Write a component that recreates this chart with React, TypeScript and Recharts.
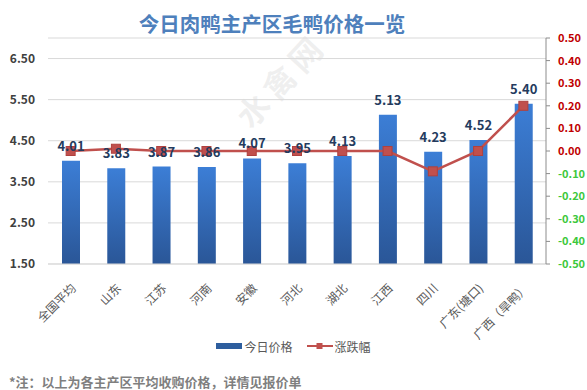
import React from 'react';
import {
  ComposedChart, Bar, Line, XAxis, YAxis, CartesianGrid, LabelList, Legend,
} from 'recharts';

const categories = ['全国平均', '山东', '江苏', '河南', '安徽', '河北', '湖北', '江西', '四川', '广东(塘口)', '广西（旱鸭）'];
const prices = [4.01, 3.83, 3.87, 3.86, 4.07, 3.95, 4.13, 5.13, 4.23, 4.52, 5.40];
const changes = [0, 0.01, 0, 0, 0, 0, 0, 0, -0.09, 0, 0.20];
const leftTicks = [1.5, 2.5, 3.5, 4.5, 5.5, 6.5];
const rightTicks = [-0.5, -0.4, -0.3, -0.2, -0.1, 0, 0.1, 0.2, 0.3, 0.4, 0.5];

const data = categories.map((name, i) => ({ name, price: prices[i], change: changes[i] }));

const FONT = '"Noto Sans CJK SC", "Noto Sans", sans-serif';

const XTick = (props: any) => {
  const { x, y, payload } = props;
  const px = x + 6;
  const py = y + 17;
  return (
    <text x={px} y={py} transform={`rotate(-45, ${px}, ${py})`} textAnchor="end"
      fontSize={12} fill="#595959" fontFamily={FONT}>{payload.value}</text>
  );
};

const RightTick = (props: any) => {
  const { x, y, payload } = props;
  const v = payload.value;
  return (
    <text x={x} y={y} dy={4} textAnchor="start" fontSize={11} fontWeight={700}
      fill={v < 0 ? '#3CC83C' : '#C00000'} fontFamily={FONT}>{v.toFixed(2)}</text>
  );
};

const LeftTick = (props: any) => {
  const { x, y, payload } = props;
  return (
    <text x={x} y={y} dy={4} textAnchor="end" fontSize={12} fontWeight={600}
      fill="#404040" fontFamily={FONT}>{payload.value.toFixed(2)}</text>
  );
};

const Square = (props: any) => {
  const { cx, cy } = props;
  if (cx == null || cy == null) return null;
  return <rect x={cx - 4.5} y={cy - 4.5} width={9} height={9} fill="#C0504D" stroke="#B0413E" strokeWidth={1} />;
};

const LegendContent = () => (
  <div style={{ display: 'flex', justifyContent: 'center', alignItems: 'center', height: 20, fontFamily: FONT, fontSize: 12, color: '#595959' }}>
    <svg width={26} height={8} style={{ marginRight: 2 }}>
      <rect x={0} y={1} width={26} height={6} fill="#2E5E9E" />
    </svg>
    <span style={{ marginRight: 14 }}>今日价格</span>
    <svg width={26} height={10} style={{ marginRight: 2 }}>
      <line x1={0} y1={5} x2={26} y2={5} stroke="#C0504D" strokeWidth={2} />
      <rect x={9.5} y={2} width={6} height={6} fill="#C0504D" />
    </svg>
    <span>涨跌幅</span>
  </div>
);

export default function App() {
  return (
    <div style={{ position: 'absolute', left: 0, top: 0, width: 587, height: 390, background: '#fff', overflow: 'hidden' }}>
      <div style={{ position: 'absolute', left: 0, width: 544, top: 9, textAlign: 'center', fontFamily: FONT, fontSize: 20.5, fontWeight: 700, color: '#4E80BC', lineHeight: '28px' }}>
        今日肉鸭主产区毛鸭价格一览
      </div>
      <div style={{ position: 'absolute', left: 220, top: 55, width: 120, textAlign: 'center', transform: 'rotate(-47deg)', fontFamily: FONT, fontSize: 32, fontWeight: 700, color: 'rgba(200,200,200,0.28)', letterSpacing: 6, lineHeight: '48px' }}>
        水禽网
      </div>
      <ComposedChart width={587} height={390} data={data}
        margin={{ top: 38, right: 0, left: 0, bottom: 0 }}>
        <defs>
          <linearGradient id="barGrad" x1="0" y1="0" x2="0" y2="1">
            <stop offset="0%" stopColor="#3C7ED6" />
            <stop offset="100%" stopColor="#2A5697" />
          </linearGradient>
        </defs>
        <CartesianGrid yAxisId="left" vertical={false} stroke="#D9D9D9" />
        <XAxis dataKey="name" height={106} interval={0} tick={<XTick />} tickLine={false}
          axisLine={{ stroke: '#D9D9D9' }} />
        <YAxis yAxisId="left" orientation="left" width={48} domain={[1.5, 7]} ticks={leftTicks}
          allowDataOverflow axisLine={false} tickLine={false} tickMargin={7} tick={<LeftTick />} interval={0} />
        <YAxis yAxisId="right" orientation="right" width={41} domain={[-0.5, 0.5]} ticks={rightTicks}
          allowDataOverflow axisLine={{ stroke: '#8C8C8C' }} tickLine={{ stroke: '#8C8C8C' }} tickSize={4} tickMargin={8}
          tick={<RightTick />} interval={0} />
        <Legend content={<LegendContent />} wrapperStyle={{ position: 'absolute', top: 336, left: 0, width: 587, height: 20 }} />
        <Bar yAxisId="left" dataKey="price" barSize={18} fill="url(#barGrad)" isAnimationActive={false}>
          <LabelList dataKey="price" position="top" offset={10}
            formatter={(v: any) => Number(v).toFixed(2)}
            style={{ fontSize: 13, fontWeight: 700, fill: '#243B5E', fontFamily: FONT }} />
        </Bar>
        <Line yAxisId="right" dataKey="change" stroke="#C0504D" strokeWidth={2.5}
          dot={<Square />} activeDot={false} isAnimationActive={false} />
      </ComposedChart>
      <div style={{ position: 'absolute', left: 9, top: 375, fontFamily: FONT, fontSize: 13, fontWeight: 600, color: '#7F7F7F', whiteSpace: 'nowrap', lineHeight: '14px' }}>
        *注：以上为各主产区平均收购价格，详情见报价单
      </div>
    </div>
  );
}
